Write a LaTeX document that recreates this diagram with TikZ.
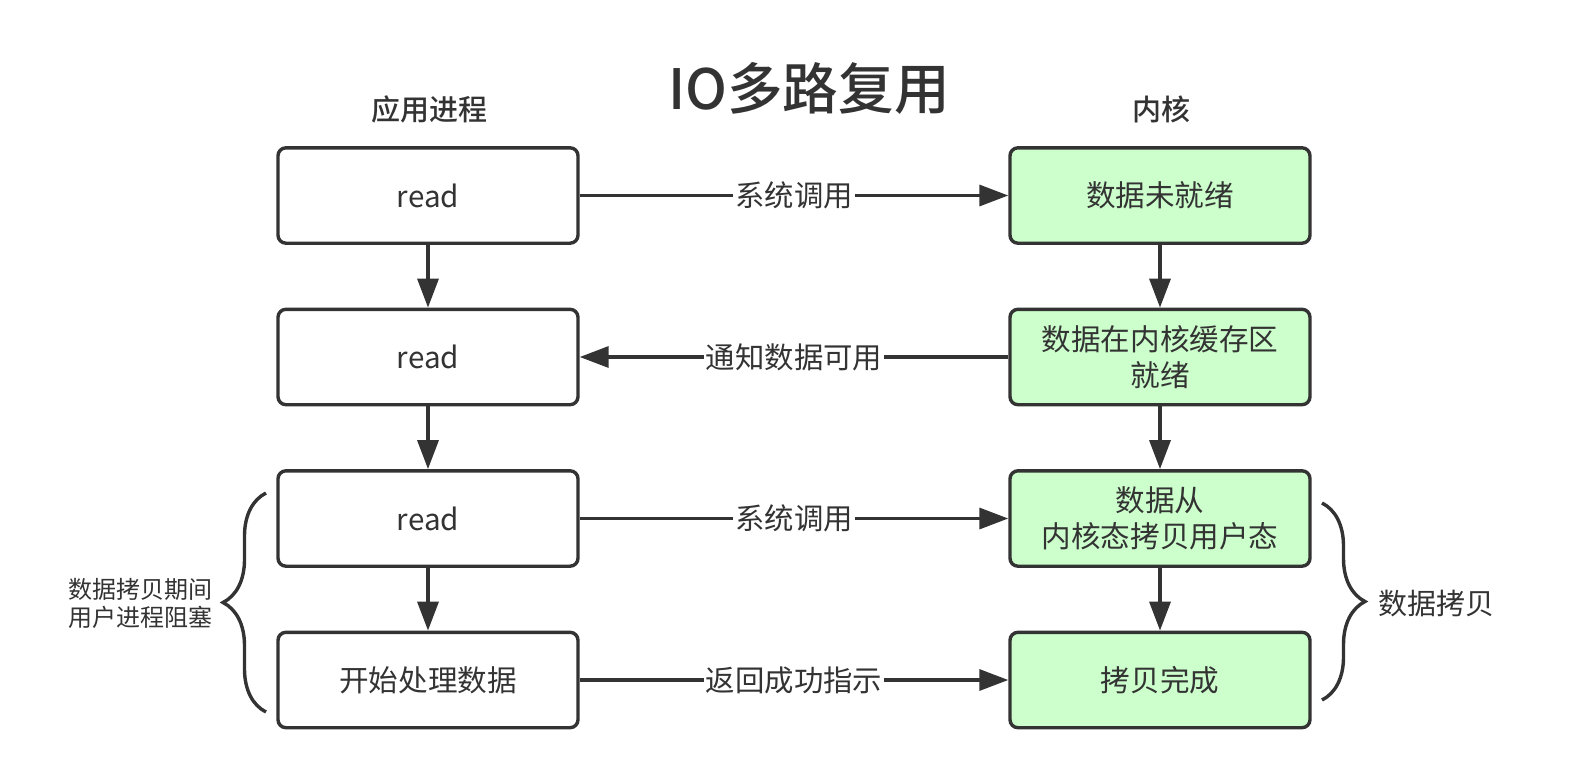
\documentclass[tikz,border=0pt]{standalone}
\usepackage{fontspec}
\setmainfont{Noto Sans CJK SC}[BoldFont={Noto Sans CJK SC Medium}]
\usetikzlibrary{arrows.meta,decorations.pathreplacing}
\definecolor{linegray}{HTML}{333333}
\definecolor{kernelgreen}{HTML}{CCFFCC}
\begin{document}
\begin{tikzpicture}[x=0.5pt,y=-0.5pt,color=linegray,line width=1.7pt,
  proc/.style={draw,rounded corners=4pt,fill=white,minimum width=150pt,minimum height=47.7pt,align=center,font=\fontsize{14.8}{18}\selectfont},
  kern/.style={proc,fill=kernelgreen},
  flow/.style={-{Triangle[length=14.5pt,width=10.5pt]}},
  lbl/.style={fill=white,inner sep=1pt,font=\fontsize{14.7}{18}\selectfont},
  curly/.style={decorate,decoration={brace,amplitude=21.5pt}}]
%TITLE AND HEADERS
\node (title) at (809,88) {\fontsize{27.8}{30}\selectfont\bfseries IO多路复用};
\node (apphead) at (429,109) {\fontsize{14.5}{18}\selectfont\bfseries 应用进程};
\node (kernhead) at (1161,109) {\fontsize{14.5}{18}\selectfont\bfseries 内核};
%APPLICATION PROCESS
\node [proc] (r1) at (428,195.5) {read};
\node [proc] (r2) at (428,357) {read};
\node [proc] (r3) at (428,518.5) {read};
\node [proc] (r4) at (428,680) {开始处理数据};
%KERNEL
\node [kern] (k1) at (1160,195.5) {数据未就绪};
\node [kern] (k2) at (1160,357) {数据在内核缓存区\\就绪};
\node [kern] (k3) at (1160,518.5) {数据从\\内核态拷贝用户态};
\node [kern] (k4) at (1160,680) {拷贝完成};
%DOWNWARD STEPS
\draw [flow] (r1) -- (r2);
\draw [flow] (r2) -- (r3);
\draw [flow] (r3) -- (r4);
\draw [flow] (k1) -- (k2);
\draw [flow] (k2) -- (k3);
\draw [flow] (k3) -- (k4);
%CALLS ACROSS
\draw [flow] (r1) -- node [lbl] {系统调用} (k1);
\draw [flow] (k2) -- node [lbl] {通知数据可用} (r2);
\draw [flow] (r3) -- node [lbl] {系统调用} (k3);
\draw [flow] (r4) -- node [lbl] {返回成功指示} (k4);
%BRACES
\coordinate (lbtop) at (266,493);
\coordinate (lbbot) at (266,712);
\coordinate (rbtop) at (1322,503);
\coordinate (rbbot) at (1322,700);
\draw [curly] (lbbot) -- (lbtop);
\draw [curly] (rbtop) -- (rbbot);
\node [align=center,font=\fontsize{12}{14}\selectfont] (blocknote) at (140.5,603) {数据拷贝期间\\用户进程阻塞};
\node [anchor=west,inner sep=0pt,font=\fontsize{14.5}{18}\selectfont] (copynote) at (1377,603) {数据拷贝};
%PAGE
\pgfresetboundingbox
\useasboundingbox (0,0) rectangle (1580,778);
\end{tikzpicture}
\end{document}
